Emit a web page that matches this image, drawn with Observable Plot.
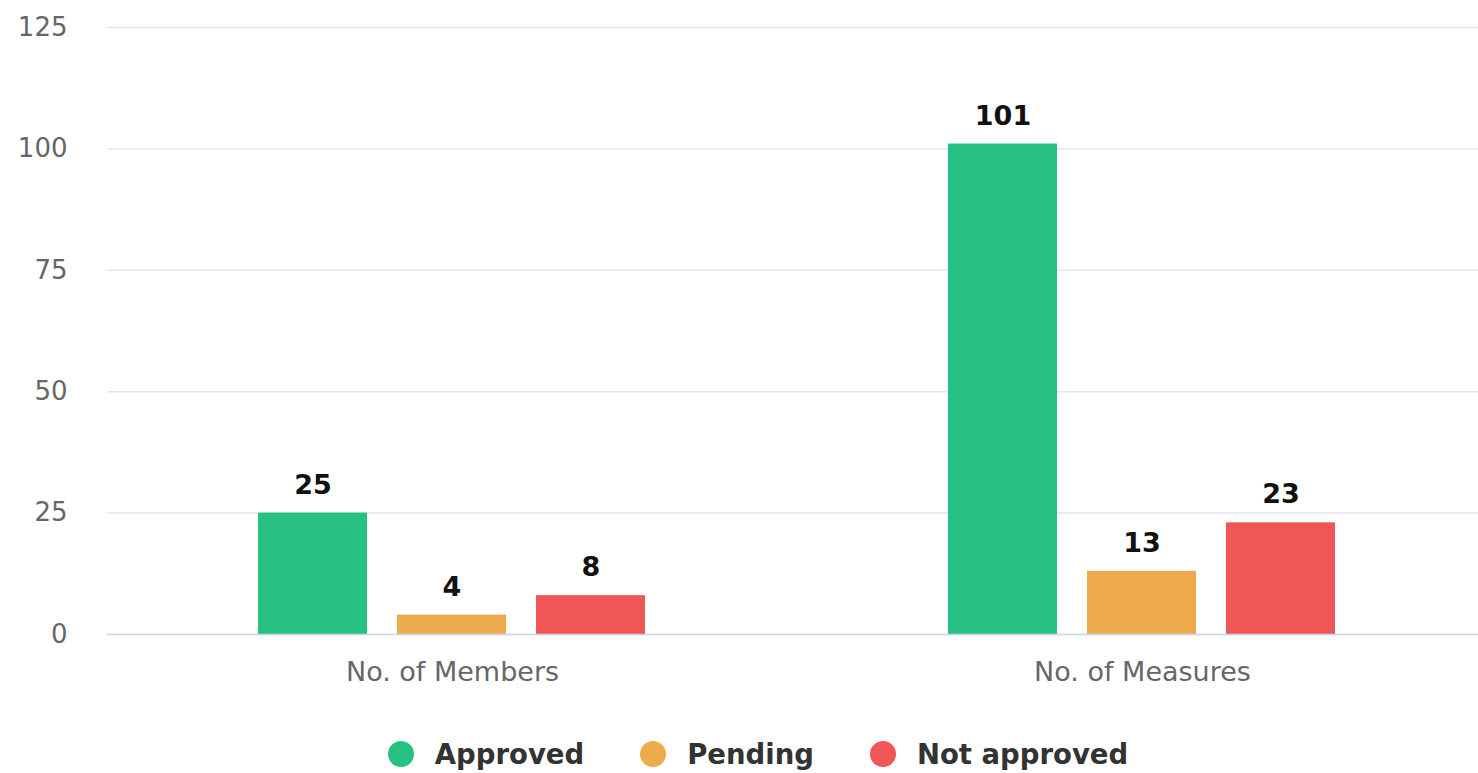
<!DOCTYPE html>
<html><head><meta charset="utf-8">
<script src="https://cdn.jsdelivr.net/npm/d3@7"></script>
<script src="https://cdn.jsdelivr.net/npm/@observablehq/plot@0.6"></script>
<style>
body{margin:0;background:#fff;font-family:"DejaVu Sans",sans-serif}
#legend{display:flex;justify-content:center;align-items:center;height:78px;padding-left:38px;gap:56px}
.item{display:flex;align-items:center;gap:21px;font-weight:bold;font-size:27.5px;color:#333}
.dot{width:26px;height:26px;border-radius:50%}
</style>
</head><body><div id="chart"></div><div id="legend"></div><script>
const categories = ["No. of Members", "No. of Measures"];
const series = ["Approved", "Pending", "Not approved"];
const approved = [25, 101];
const pending = [4, 13];
const notApproved = [8, 23];
const colors = ["#27c283", "#edab4b", "#f15656"];
const yTicks = [0, 25, 50, 75, 100, 125];

const seriesValues = [approved, pending, notApproved];
const data = categories.flatMap((c, i) => series.map((s, j) => ({category: c, status: s, value: seriesValues[j][i]})));

const chart = Plot.plot({
  width: 1478, height: 715,
  marginLeft: 106, marginRight: 0, marginTop: 27, marginBottom: 81,
  style: {fontFamily: "DejaVu Sans", background: "#fff", overflow: "hidden"},
  fx: {domain: categories, range: [106, 1487], paddingInner: 0, paddingOuter: 0, label: null, axis: null},
  x: {domain: series, paddingInner: 0.213, paddingOuter: 1.085, axis: null},
  y: {domain: [0, 125], label: null},
  color: {domain: series, range: colors},
  marks: [
    Plot.gridY(yTicks, {stroke: "#e4e6ec", strokeOpacity: 1, strokeWidth: 1.5}),
    Plot.axisY(yTicks, {tickSize: 0, tickPadding: 40, fontSize: 26, fill: "#666", label: null}),
    Plot.axisFx({anchor: "bottom", tickSize: 0, tickPadding: 27, fontSize: 27, fill: "#666", label: null}),
    Plot.barY(data, {fx: "category", x: "status", y: "value", fill: "status"}),
    Plot.ruleY([0], {stroke: "#ccd6eb", strokeWidth: 1.5}),
    Plot.text(data, {fx: "category", x: "status", y: "value", text: d => String(d.value), dy: -28, fontSize: 27, fontWeight: "bold", fill: "#111"})
  ]
});
document.getElementById("chart").appendChild(chart);

const legend = d3.select("#legend");
series.forEach((s, i) => {
  const it = legend.append("div").attr("class", "item");
  it.append("div").attr("class", "dot").style("background", colors[i]);
  it.append("span").text(s);
});
</script></body></html>
